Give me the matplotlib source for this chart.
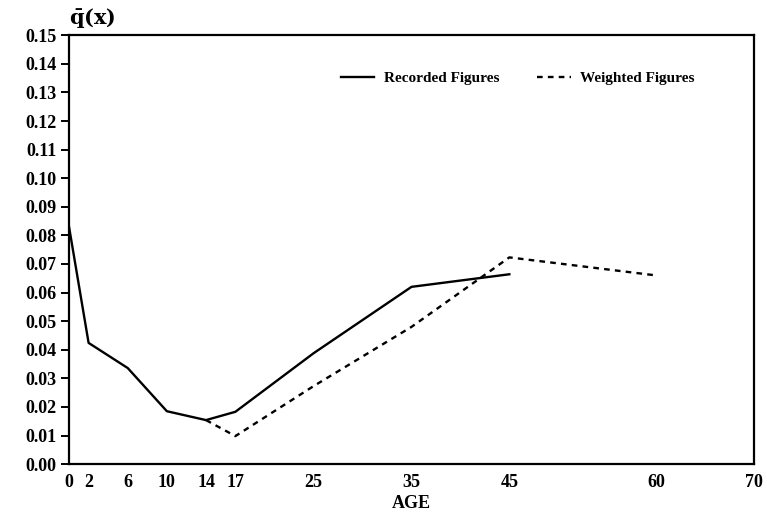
import matplotlib
matplotlib.use("Agg")
import matplotlib.pyplot as plt

# ages and rates
rec_age = [0, 2, 6, 10, 14, 17, 25, 35, 45]
rec_q = [0.083, 0.0424, 0.0336, 0.0185, 0.0154, 0.0183, 0.0388, 0.062, 0.0664]

wgt_age = [14, 17, 25, 35, 45, 60]
wgt_q = [0.0154, 0.0098, 0.0273, 0.048, 0.0723, 0.066]

xticks = [0, 2, 6, 10, 14, 17, 25, 35, 45, 60, 70]
yticks = [i / 100 for i in range(0, 16)]

plt.rcParams['font.family'] = ['Liberation Serif', 'DejaVu Serif']
plt.rcParams['font.weight'] = 'bold'
plt.rcParams['mathtext.fontset'] = 'dejavuserif'

fig = plt.figure(figsize=(7.67, 5.18), dpi=100)
ax = fig.add_axes([0.090, 0.104, 0.893, 0.828])

ax.plot(rec_age, rec_q, color='black', lw=1.7, label='Recorded Figures')
ax.plot(wgt_age, wgt_q, color='black', lw=1.7, linestyle=(0, (2.4, 2.2)),
        label='Weighted Figures')

ax.set_xlim(0, 70)
ax.set_ylim(0, 0.15)
ax.set_xticks(xticks)
ax.set_yticks(yticks)
ax.set_yticklabels(['%.2f' % v for v in yticks])
ax.tick_params(axis='x', length=0, labelsize=13, pad=7)
ax.tick_params(axis='y', length=6, width=1.4, direction='out', labelsize=13, pad=3)
for lab in ax.get_xticklabels() + ax.get_yticklabels():
    lab.set_fontweight('bold')
for sp in ax.spines.values():
    sp.set_linewidth(1.6)

ax.set_xlabel('AGE', fontsize=13, fontweight='bold', labelpad=3)
ax.text(0.0, 1.012, r'$\bar{\mathrm{q}}(\mathrm{x})$', transform=ax.transAxes,
        fontsize=15, ha='left', va='bottom')

leg = ax.legend(ncol=2, frameon=False, loc='center', bbox_to_anchor=(0.655, 0.90),
                handlelength=2.2, columnspacing=2.5, handletextpad=0.6,
                prop={'size': 11, 'weight': 'bold'})

fig.savefig('out.png', dpi=100)
